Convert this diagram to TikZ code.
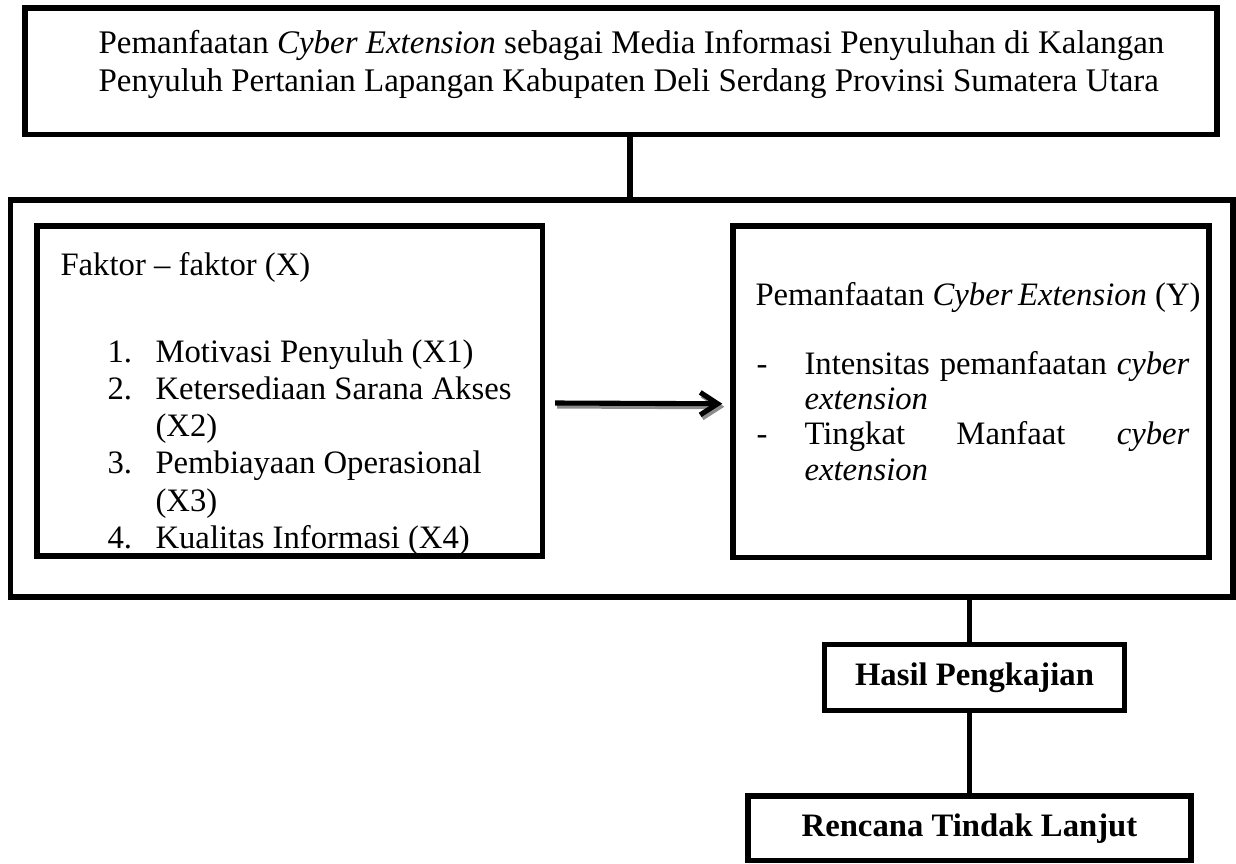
\documentclass[tikz,border=0pt]{standalone}
\usepackage{fontspec}
\setmainfont{Liberation Serif}
\usetikzlibrary{arrows.meta}
\def\pxl{0.373pt}
\tikzset{
	frame/.style={draw, rectangle, line width=2pt, inner sep=0pt},
	txt/.style={inner sep=0pt, anchor=base west, align=left, font=\fontsize{12.2}{13.9}\selectfont},
	link/.style={line width=1.9pt},
	panah/.style={line width=1.9pt, -{Straight Barb[length=6.5pt,width=8.4pt]}},
}

\begin{document}
\begin{tikzpicture}[x=0.373pt, y=-0.373pt]
			%%%%% START %%%%%
			\useasboundingbox (0, 0) rectangle (1236, 864);
			
			\node[frame, minimum width=1192*\pxl, minimum height=126.5*\pxl] (judul) at (621, 71.25) {};
			\node[txt, font=\fontsize{12.3}{14.17}\selectfont] (judultxt) at (98, 91)
				{Pemanfaatan \textit{Cyber Extension} sebagai Media Informasi Penyuluhan di Kalangan\\
				Penyuluh Pertanian Lapangan Kabupaten Deli Serdang Provinsi Sumatera Utara};
			
			\node[frame, minimum width=1222.5*\pxl, minimum height=397*\pxl] (kerangka) at (621.75, 398.5) {};
			
			\node[frame, minimum width=505.5*\pxl, minimum height=330*\pxl] (faktor) at (289.75, 391) {};
			\node[txt] (faktortxt) at (60, 275) {Faktor -- faktor (X)};
			\node[txt] (daftarx) at (107, 362)
				{\begin{tabular}[t]{@{}p{17.9pt}@{}l@{}}
				1. & Motivasi Penyuluh (X1)\\
				2. & Ketersediaan Sarana Akses\\
				   & (X2)\\
				3. & Pembiayaan Operasional\\
				   & (X3)\\
				4. & Kualitas Informasi (X4)
				\end{tabular}};
			
			\node[frame, minimum width=476*\pxl, minimum height=331.5*\pxl] (manfaat) at (971, 391.75) {};
			\node[txt] (manfaattxt) at (755, 305) {Pemanfaatan \textit{Cyber\kern-1pt\ Extension} (Y)};
			\node[txt, font=\fontsize{12.2}{13.2}\selectfont] (daftary) at (756, 374)
				{\begin{tabular}[t]{@{}p{17.9pt}@{}l@{}}
				- & \makebox[143.6pt][s]{Intensitas pemanfaatan \textit{cyber}}\\
				  & \textit{extension}\\
				- & \makebox[143.6pt][s]{Tingkat Manfaat \textit{cyber}}\\
				  & \textit{extension}
				\end{tabular}};
			
			\draw[panah, black!45] ([xshift=12*\pxl, yshift=-15*\pxl]faktor.east) -- ([xshift=-6*\pxl, yshift=-15*\pxl]manfaat.west);
			\draw[panah] ([xshift=10*\pxl, yshift=-12*\pxl]faktor.east) -- ([xshift=-8*\pxl, yshift=-12*\pxl]manfaat.west);
			
			\node[frame, minimum width=300*\pxl, minimum height=66*\pxl, font=\fontsize{12.2}{13.9}\selectfont\bfseries] (hasil) at (974.5, 677.5) {Hasil Pengkajian};
			\node[frame, minimum width=443*\pxl, minimum height=64.5*\pxl, font=\fontsize{12.2}{13.9}\selectfont\bfseries] (rencana) at (969.5, 828.25) {Rencana Tindak Lanjut};
			
			\draw[link] ([xshift=9*\pxl]judul.south) -- ([xshift=9*\pxl]judul.south |- kerangka.north);
			\draw[link] (kerangka.south -| rencana.north) -- (hasil.north -| rencana.north);
			\draw[link] (hasil.south -| rencana.north) -- (rencana.north);
			
			%%%%% END %%%%%
		\end{tikzpicture}
\end{document}
